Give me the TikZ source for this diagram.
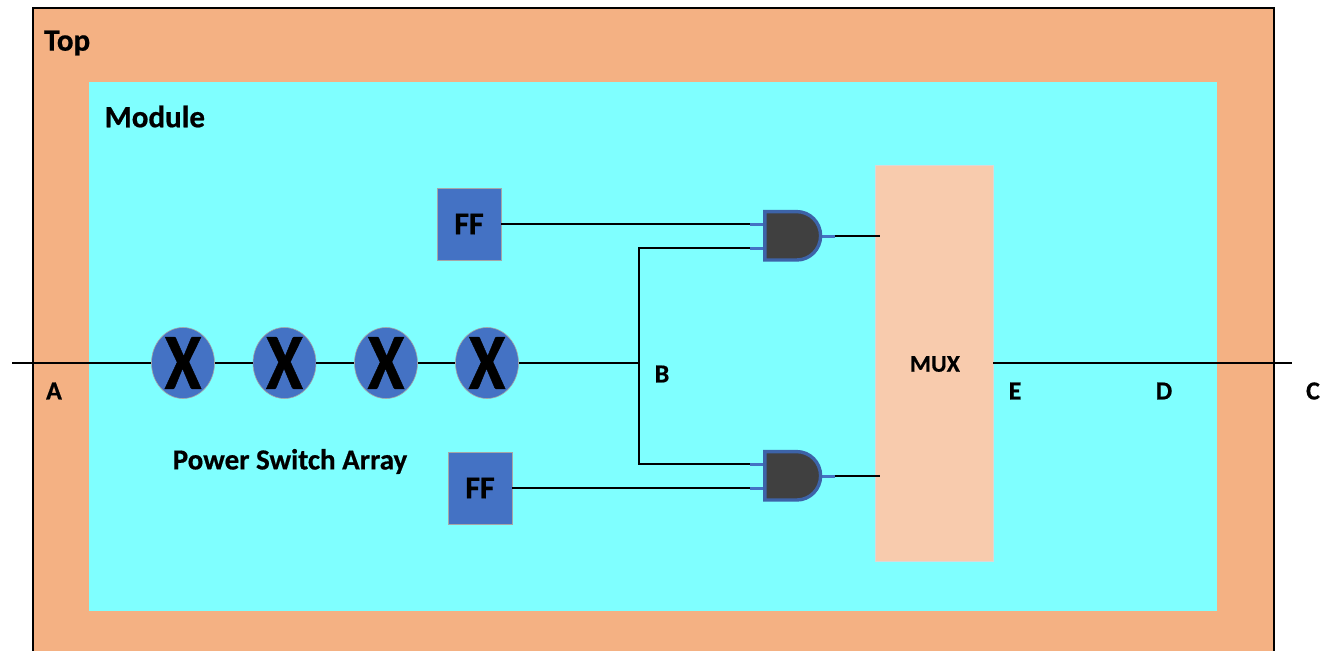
\documentclass[tikz,border=0pt]{standalone}
\usepackage{fontspec}
\setmainfont[BoldFeatures={FakeBold=0.6}]{Carlito}
\definecolor{topfill}{HTML}{F4B183}
\definecolor{modfill}{HTML}{7FFFFF}
\definecolor{muxfill}{HTML}{F8CBAD}
\definecolor{blueC}{HTML}{4472C4}
\definecolor{gateedge}{HTML}{3D63A8}
\definecolor{gatefill}{HTML}{404040}
\tikzset{
  x=1pt,y=-1pt,
  wire/.style={draw=black,line width=1.8pt},
  stem/.style={draw=blueC,line width=3pt},
  ffbox/.style={draw=black!35,line width=.4pt,fill=blueC,minimum width=64pt,minimum height=72pt,inner sep=0pt,font=\bfseries\fontsize{32}{32}\selectfont},
  switch/.style={ellipse,draw=black!35,line width=.6pt,fill=blueC,minimum width=63pt,minimum height=71pt,inner sep=0pt},
  andgate/.style={draw=none,minimum width=57pt,minimum height=50pt,inner sep=0pt},
  andshape/.style={draw=gateedge,line width=3.4pt,fill=gatefill,line join=miter},
  lab/.style={inner sep=0pt,font=\bfseries\fontsize{26}{26}\selectfont},
  title/.style={inner sep=0pt,anchor=west,font=\bfseries\fontsize{31}{31}\selectfont},
}
\usetikzlibrary{shapes.geometric}
\begin{document}
\begin{tikzpicture}
\useasboundingbox (0,0) rectangle (1337,650);
\begin{scope}
\clip (0,0) rectangle (1337,650);
\draw[draw=black,line width=2.6pt,fill=topfill] (33,8) rectangle (1274,670);
\end{scope}
\fill[modfill] (89,82) rectangle (1217,611);
\node[title] (top) at (44,43) {Top};
\node[title] (module) at (104.5,116.5) {Module};

\coordinate (lend) at (12,363);
\coordinate (rend) at (1292,363);
\coordinate (junc) at (639,363);

\node[draw=black!15,line width=.4pt,fill=muxfill,minimum width=118pt,minimum height=396pt,inner sep=0pt] (mux) at (934,363) {};
\node[inner sep=0pt,font=\bfseries\fontsize{24}{24}\selectfont] (muxt) at (935,364) {MUX};

\node[ffbox] (ff1) at (469,224) {FF};
\node[ffbox] (ff2) at (480,488) {FF};

\node[switch] (s1) at (183,363) {};
\node[switch] (s2) at (284.5,363) {};
\node[switch] (s3) at (386,363) {};
\node[switch] (s4) at (487,363) {};
\foreach \n in {1,2,3,4} \node[inner sep=0pt,font=\bfseries\fontsize{80}{80}\selectfont] (x\n) at (s\n) {\scalebox{.84}[1]{X}};

\node[andgate] (g1) at (792.5,236) {};
\node[andgate] (g2) at (792.5,476) {};

\coordinate (g1a) at (750,224);
\coordinate (g1b) at (750,248);
\coordinate (g2a) at (750,464);
\coordinate (g2b) at (750,488);
\coordinate (g1o) at (835,236);
\coordinate (g2o) at (835,476);
\coordinate (m1) at (880,236);
\coordinate (m2) at (880,476);
\coordinate (jt) at (639,248);
\coordinate (jb) at (639,464);

\draw[wire] (lend) -- (s1);
\draw[wire] (s1) -- (s2);
\draw[wire] (s2) -- (s3);
\draw[wire] (s3) -- (s4);
\draw[wire] (s4) -- (junc);
\draw[wire] (g1b) -- (jt) -- (jb) -- (g2a);
\draw[wire] (ff1.east |- g1a) -- (g1a);
\draw[wire] (ff2.east |- g2b) -- (g2b);
\draw[wire] (mux.east |- rend) -- (rend);

\foreach \g/\a/\b/\o/\m in {g1/g1a/g1b/g1o/m1,g2/g2a/g2b/g2o/m2}{
  \draw[stem] (\a) -- (\a -| \g.west);
  \draw[stem] (\b) -- (\b -| \g.west);
  \draw[stem] (\g.east) -- (\o);
  \draw[wire,line width=2.4pt] (\o) -- (\m);
  \draw[andshape] ([shift={(1,0.8)}]\g.north west) -- ([shift={(33,0.8)}]\g.north west)
     .. controls ([shift={(46,0.8)}]\g.north west) and ([shift={(56.8,11.5)}]\g.north west)
     .. ([shift={(56.8,25)}]\g.north west)
     .. controls ([shift={(56.8,38.5)}]\g.north west) and ([shift={(46,49.2)}]\g.north west)
     .. ([shift={(33,49.2)}]\g.north west)
     -- ([shift={(1,49.2)}]\g.north west) -- cycle;
}

\node[lab] (A) at (54,391) {A};
\node[lab] (B) at (662,374) {B};
\node[lab] (C) at (1313,391) {C};
\node[lab] (D) at (1164,391) {D};
\node[lab] (E) at (1015,391) {E};
\node[inner sep=0pt,font=\bfseries\fontsize{29}{29}\selectfont] (psa) at (290,461.5) {Power Switch Array};
\end{tikzpicture}
\end{document}
